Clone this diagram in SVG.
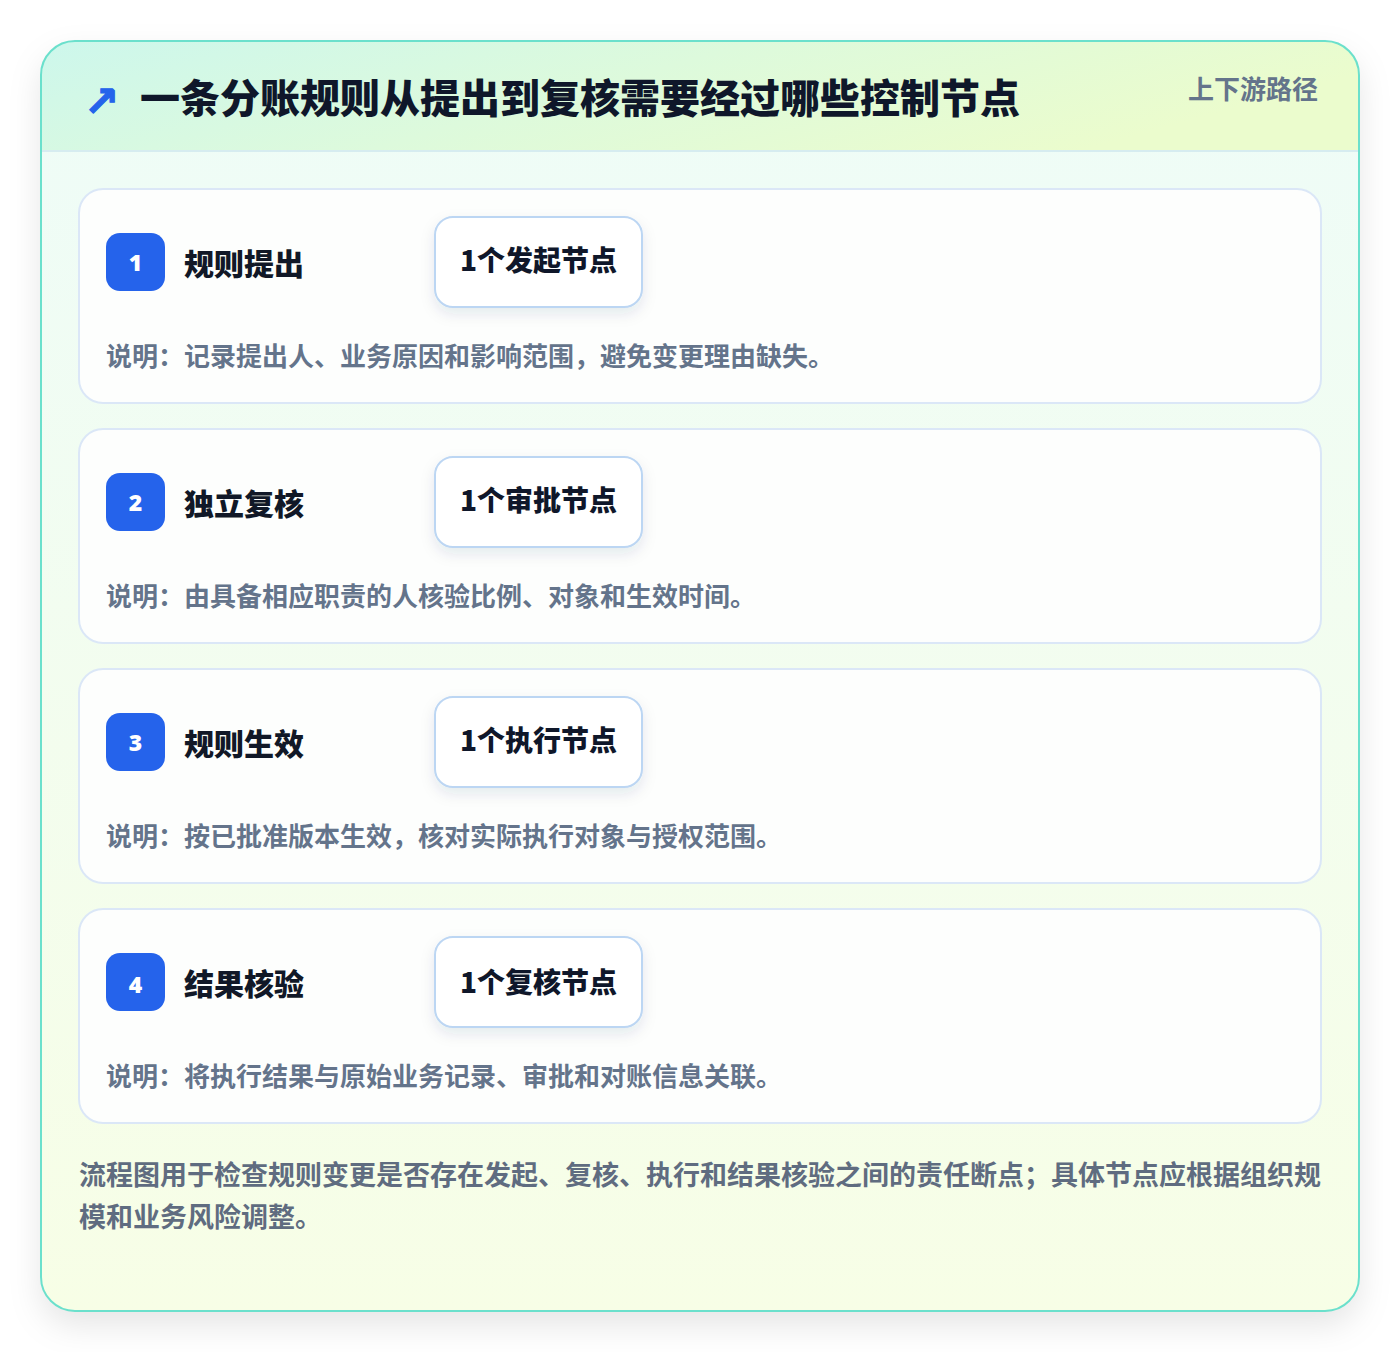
<svg xmlns="http://www.w3.org/2000/svg" width="1400" height="1352" viewBox="0 0 1400 1352">
<defs>
<linearGradient id="bodyG" x1="0" y1="0" x2="0" y2="1">
<stop offset="0" stop-color="#eefcf8"/>
<stop offset="1" stop-color="#f7fee6"/>
</linearGradient>
<linearGradient id="headG" x1="0" y1="0" x2="1" y2="0.3">
<stop offset="0" stop-color="#cdf7ec"/>
<stop offset="0.5" stop-color="#ddfadc"/>
<stop offset="1" stop-color="#ebfccd"/>
</linearGradient>
<filter id="outerShadow" x="-10%" y="-10%" width="120%" height="125%">
<feDropShadow dx="0" dy="14" stdDeviation="16" flood-color="#000" flood-opacity="0.10"/>
</filter>
<filter id="pillShadow" x="-20%" y="-30%" width="140%" height="170%">
<feDropShadow dx="0" dy="6" stdDeviation="7" flood-color="#1e3a5f" flood-opacity="0.10"/>
</filter>
<clipPath id="outerClip"><rect x="41" y="41" width="1318" height="1270" rx="34"/></clipPath>
</defs>
<style>
.cjk{font-family:"Noto Sans CJK SC","Noto Sans",sans-serif;font-weight:700}
.heavy{font-weight:900}
.title{font-size:40px;fill:#0f172a}
.tag{font-size:26px;fill:#64748b}
.card{fill:#fdfefd;stroke:#dbe7f7;stroke-width:2}
.badge{fill:#2563eb}
.num{font-family:"Noto Sans","DejaVu Sans",sans-serif;font-weight:900;font-size:23px;fill:#ffffff}
.ctitle{font-size:30px;fill:#111827}
.pill{fill:#ffffff;stroke:#bcd6f3;stroke-width:2}
.ptext{font-size:28px;fill:#0f172a}
.desc{font-size:26px;fill:#64748b}
.foot{font-size:27px;fill:#5f6c80}
</style>
<rect width="1400" height="1352" fill="#ffffff"/>
<g id="frame">
<rect x="41" y="41" width="1318" height="1270" rx="34" fill="url(#bodyG)" filter="url(#outerShadow)"/>
<g clip-path="url(#outerClip)">
<rect x="41" y="41" width="1318" height="110" fill="url(#headG)"/>
<line x1="41" y1="151" x2="1359" y2="151" stroke="#d6ecf0" stroke-width="2"/>
</g>
<rect x="41" y="41" width="1318" height="1270" rx="34" fill="none" stroke="#6be0cc" stroke-width="2"/>
</g>
<g id="header">
<text x="84" y="116" font-family="DejaVu Sans,sans-serif" font-weight="700" font-size="42" fill="#2563eb" stroke="#2563eb" stroke-width="1.2">↗</text>
<text class="cjk heavy title" x="140" y="113">一条分账规则从提出到复核需要经过哪些控制节点</text>
<text class="cjk tag" x="1318" y="99" text-anchor="end">上下游路径</text>
</g>
<g id="step1">
<rect class="card" x="79" y="189" width="1242" height="214" rx="24"/>
<rect class="badge" x="106" y="233" width="59" height="58" rx="14"/>
<text class="num" x="135.5" y="271" text-anchor="middle">1</text>
<text class="cjk heavy ctitle" x="184" y="275">规则提出</text>
<rect class="pill" x="435" y="217" width="207" height="90" rx="18" filter="url(#pillShadow)"/>
<text class="cjk heavy ptext" x="538.5" y="271" text-anchor="middle">1个发起节点</text>
<text class="cjk desc" x="106" y="366">说明：记录提出人、业务原因和影响范围，避免变更理由缺失。</text>
</g>
<g id="step2">
<rect class="card" x="79" y="429" width="1242" height="214" rx="24"/>
<rect class="badge" x="106" y="473" width="59" height="58" rx="14"/>
<text class="num" x="135.5" y="511" text-anchor="middle">2</text>
<text class="cjk heavy ctitle" x="184" y="515">独立复核</text>
<rect class="pill" x="435" y="457" width="207" height="90" rx="18" filter="url(#pillShadow)"/>
<text class="cjk heavy ptext" x="538.5" y="511" text-anchor="middle">1个审批节点</text>
<text class="cjk desc" x="106" y="606">说明：由具备相应职责的人核验比例、对象和生效时间。</text>
</g>
<g id="step3">
<rect class="card" x="79" y="669" width="1242" height="214" rx="24"/>
<rect class="badge" x="106" y="713" width="59" height="58" rx="14"/>
<text class="num" x="135.5" y="751" text-anchor="middle">3</text>
<text class="cjk heavy ctitle" x="184" y="755">规则生效</text>
<rect class="pill" x="435" y="697" width="207" height="90" rx="18" filter="url(#pillShadow)"/>
<text class="cjk heavy ptext" x="538.5" y="751" text-anchor="middle">1个执行节点</text>
<text class="cjk desc" x="106" y="846">说明：按已批准版本生效，核对实际执行对象与授权范围。</text>
</g>
<g id="step4">
<rect class="card" x="79" y="909" width="1242" height="214" rx="24"/>
<rect class="badge" x="106" y="953" width="59" height="58" rx="14"/>
<text class="num" x="135.5" y="993" text-anchor="middle">4</text>
<text class="cjk heavy ctitle" x="184" y="995">结果核验</text>
<rect class="pill" x="435" y="937" width="207" height="90" rx="18" filter="url(#pillShadow)"/>
<text class="cjk heavy ptext" x="538.5" y="993" text-anchor="middle">1个复核节点</text>
<text class="cjk desc" x="106" y="1086">说明：将执行结果与原始业务记录、审批和对账信息关联。</text>
</g>
<g id="connectors"></g>
<g id="footer">
<text class="cjk foot" x="79" y="1185">流程图用于检查规则变更是否存在发起、复核、执行和结果核验之间的责任断点；具体节点应根据组织规</text>
<text class="cjk foot" x="79" y="1227">模和业务风险调整。</text>
</g>
</svg>
